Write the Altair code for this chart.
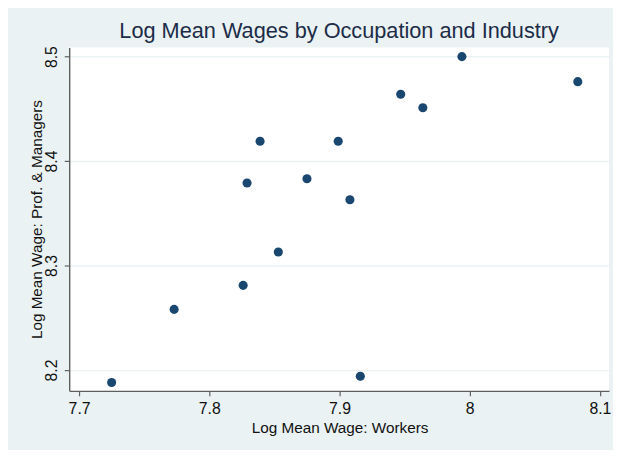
import altair as alt
import pandas as pd

# Data
workers = [7.725, 7.773, 7.826, 7.829, 7.839, 7.853, 7.875, 7.899, 7.908, 7.916, 7.947, 7.964, 7.994, 8.083]
managers = [8.188, 8.258, 8.281, 8.379, 8.419, 8.313, 8.383, 8.419, 8.363, 8.194, 8.464, 8.451, 8.500, 8.476]
x_ticks = [7.7, 7.8, 7.9, 8.0, 8.1]
y_ticks = [8.2, 8.3, 8.4, 8.5]

df = pd.DataFrame({"workers": workers, "managers": managers})

FONT = "Liberation Sans"
BG = "#eaf2f3"
AXIS_COL = "#5f5f5f"

chart = (
    alt.Chart(df)
    .mark_circle(size=85, color="#1a476f", opacity=1)
    .encode(
        x=alt.X(
            "workers:Q",
            scale=alt.Scale(domain=[7.6924, 8.107], nice=False, zero=False),
            axis=alt.Axis(
                values=x_ticks,
                format=".3~g",
                grid=False,
                title="Log Mean Wage: Workers",
                titleFont=FONT,
                titleFontSize=15.5,
                titleFontWeight="normal",
                titleColor="#111111",
                titleX=274,
                titleY=42,
                titleAlign="center",
                titleBaseline="alphabetic",
                labelFont=FONT,
                labelFontSize=16,
                labelColor="#111111",
                labelBaseline="top",
                labelPadding=5,
                labelFlush=False,
                labelOverlap=False,
                tickSize=5,
                tickColor=AXIS_COL,
                tickWidth=1.2,
                domainColor=AXIS_COL,
                domainWidth=1.4,
            ),
        ),
        y=alt.Y(
            "managers:Q",
            scale=alt.Scale(domain=[8.180, 8.5088], nice=False, zero=False),
            axis=alt.Axis(
                values=y_ticks,
                format=".3~g",
                grid=True,
                gridColor=BG,
                gridWidth=1.5,
                title="Log Mean Wage: Prof. & Managers",
                titleFont=FONT,
                titleFontSize=15.5,
                titleFontWeight="normal",
                titleColor="#111111",
                titleAngle=270,
                titleX=-28,
                titleY=174,
                titleAlign="center",
                titleBaseline="alphabetic",
                labelFont=FONT,
                labelFontSize=16,
                labelColor="#111111",
                labelAngle=270,
                labelAlign="center",
                labelBaseline="alphabetic",
                labelPadding=8,
                labelFlush=False,
                labelOverlap=False,
                tickSize=5,
                tickColor=AXIS_COL,
                tickWidth=1.2,
                domainColor=AXIS_COL,
                domainWidth=1.4,
            ),
        ),
    )
    .properties(
        width=547,
        height=348,
        title=alt.TitleParams(
            "Log Mean Wages by Occupation and Industry",
            font=FONT,
            fontSize=22,
            fontWeight="normal",
            color="#1c2c48",
            anchor="middle",
            frame="group",
            baseline="alphabetic",
            offset=7,
            dy=21,
        ),
        autosize=alt.AutoSizeParams(type="none"),
        padding={"left": 62, "top": 37, "right": 4, "bottom": 57},
        background=BG,
    )
    .configure_view(fill="white", strokeWidth=0)
)

chart.save("out.html", embed_options={"renderer": "svg", "actions": False})
